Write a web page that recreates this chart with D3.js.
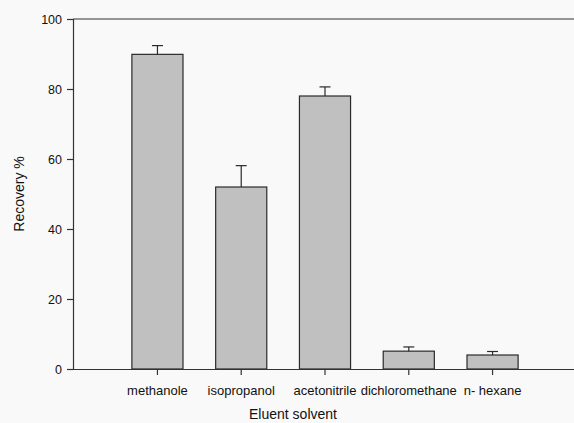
<!DOCTYPE html>
<html>
<head>
<meta charset="utf-8">
<script src="https://cdn.jsdelivr.net/npm/d3@7"></script>
<style>
  body { margin: 0; background: #f9f9f9; }
  svg { display: block; }
</style>
</head>
<body>
<svg id="chart" width="574" height="423"></svg>
<script>
// data
var solvents = ["methanole", "isopropanol", "acetonitrile", "dichloromethane", "n- hexane"];
var recovery = [89.9, 52.0, 78.0, 5.1, 4.0];
var errors = [2.5, 6.1, 2.6, 1.2, 1.0];
var yTicks = [0, 20, 40, 60, 80, 100];

var svg = d3.select("#chart");
var font = "Liberation Sans, Arial, sans-serif";

var xScale = d3.scaleBand().domain(solvents).range([90, 560]).paddingInner(0.39).paddingOuter(0.5);
var yScale = d3.scaleLinear().domain([0, 100]).range([369, 19]);

// top frame line
svg.append("line")
    .attr("x1", 73).attr("x2", 574)
    .attr("y1", yScale(100)).attr("y2", yScale(100))
    .attr("stroke", "#333").attr("stroke-width", 1.2);

// bars
svg.selectAll("rect.bar").data(recovery).enter().append("rect")
    .attr("class", "bar")
    .attr("x", (d, i) => xScale(solvents[i]))
    .attr("y", d => yScale(d))
    .attr("width", xScale.bandwidth())
    .attr("height", d => yScale(0) - yScale(d))
    .attr("fill", "#c0c0c0")
    .attr("stroke", "#2a2a2a")
    .attr("stroke-width", 1.2);

// error bars (upper only)
var errG = svg.append("g").attr("stroke", "#2a2a2a").attr("stroke-width", 1.2);
recovery.forEach(function(d, i) {
    var cx = xScale(solvents[i]) + xScale.bandwidth() / 2;
    errG.append("line")
        .attr("x1", cx).attr("x2", cx)
        .attr("y1", yScale(d)).attr("y2", yScale(d + errors[i]));
    errG.append("line")
        .attr("x1", cx - 5.5).attr("x2", cx + 5.5)
        .attr("y1", yScale(d + errors[i])).attr("y2", yScale(d + errors[i]));
});

// y axis
var yAxis = svg.append("g")
    .attr("transform", "translate(73,0)")
    .call(d3.axisLeft(yScale).tickValues(yTicks).tickSize(6).tickPadding(5));
yAxis.select(".domain").attr("stroke", "#333").attr("stroke-width", 1.2);
yAxis.selectAll(".tick line").attr("stroke", "#333").attr("stroke-width", 1.2);
yAxis.selectAll("text").attr("font-family", font).attr("font-size", "12.5px").attr("fill", "#111");

// x axis
var xAxis = svg.append("g")
    .attr("transform", "translate(0," + yScale(0) + ")")
    .call(d3.axisBottom(xScale).tickSize(6).tickPadding(11).tickSizeOuter(0));
xAxis.select(".domain").attr("d", "M67,0.5H574").attr("stroke", "#333").attr("stroke-width", 1.2);
xAxis.selectAll(".tick line").attr("stroke", "#333").attr("stroke-width", 1.2);
xAxis.selectAll("text").attr("font-family", font).attr("font-size", "13px").attr("fill", "#111");

// axis titles
svg.append("text")
    .attr("x", 293).attr("y", 419)
    .attr("text-anchor", "middle")
    .attr("font-family", font).attr("font-size", "14px").attr("fill", "#111")
    .text("Eluent solvent");

svg.append("text")
    .attr("transform", "translate(24,194) rotate(-90)")
    .attr("text-anchor", "middle")
    .attr("font-family", font).attr("font-size", "14px").attr("fill", "#111")
    .text("Recovery %");
</script>
</body>
</html>
